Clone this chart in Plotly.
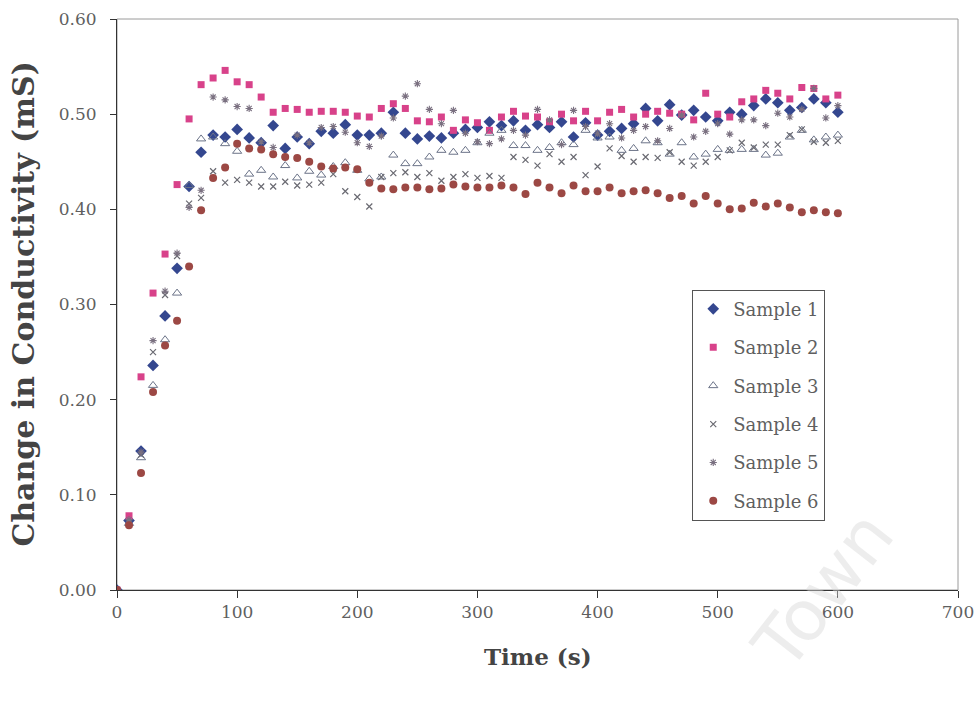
import plotly.graph_objects as go

# Sampling times (s)
time_s = list(range(0, 610, 10))

# Change in conductivity (mS) for each sample
sample_1 = [0.000, 0.073, 0.146, 0.236, 0.288, 0.338, 0.424, 0.460, 0.478, 0.476,
            0.484, 0.475, 0.470, 0.488, 0.464, 0.476, 0.469, 0.482, 0.480, 0.489,
            0.478, 0.478, 0.480, 0.502, 0.480, 0.474, 0.477, 0.475, 0.480, 0.484,
            0.486, 0.492, 0.488, 0.493, 0.483, 0.489, 0.486, 0.492, 0.476, 0.491,
            0.478, 0.482, 0.485, 0.490, 0.506, 0.493, 0.510, 0.499, 0.504, 0.497,
            0.493, 0.502, 0.500, 0.509, 0.516, 0.512, 0.504, 0.507, 0.516, 0.512,
            0.502]
sample_2 = [0.000, 0.078, 0.224, 0.312, 0.353, 0.426, 0.495, 0.531, 0.538, 0.546,
            0.534, 0.531, 0.518, 0.502, 0.506, 0.505, 0.502, 0.503, 0.503, 0.502,
            0.498, 0.497, 0.506, 0.511, 0.506, 0.493, 0.492, 0.497, 0.483, 0.494,
            0.491, 0.483, 0.497, 0.503, 0.498, 0.497, 0.492, 0.500, 0.493, 0.503,
            0.493, 0.502, 0.505, 0.497, 0.500, 0.503, 0.501, 0.500, 0.494, 0.522,
            0.500, 0.497, 0.513, 0.516, 0.525, 0.522, 0.516, 0.528, 0.527, 0.516,
            0.520]
sample_3 = [0.000, 0.070, 0.139, 0.215, 0.263, 0.312, 0.425, 0.474, 0.476, 0.469,
            0.461, 0.437, 0.441, 0.434, 0.446, 0.433, 0.440, 0.436, 0.445, 0.449,
            0.441, 0.432, 0.434, 0.457, 0.448, 0.448, 0.455, 0.462, 0.460, 0.462,
            0.470, 0.480, 0.483, 0.467, 0.467, 0.462, 0.465, 0.470, 0.468, 0.483,
            0.475, 0.476, 0.462, 0.464, 0.472, 0.470, 0.458, 0.470, 0.455, 0.458,
            0.463, 0.462, 0.463, 0.463, 0.457, 0.459, 0.476, 0.483, 0.473, 0.476,
            0.478]
sample_4 = [0.000, 0.071, 0.142, 0.250, 0.310, 0.351, 0.406, 0.412, 0.440, 0.428,
            0.431, 0.428, 0.424, 0.424, 0.429, 0.425, 0.426, 0.428, 0.437, 0.419,
            0.413, 0.403, 0.434, 0.438, 0.439, 0.434, 0.438, 0.430, 0.434, 0.437,
            0.433, 0.435, 0.433, 0.455, 0.452, 0.446, 0.458, 0.450, 0.455, 0.436,
            0.445, 0.464, 0.456, 0.450, 0.455, 0.454, 0.460, 0.450, 0.446, 0.450,
            0.455, 0.462, 0.470, 0.465, 0.468, 0.468, 0.478, 0.484, 0.471, 0.470,
            0.472]
sample_5 = [0.000, 0.074, 0.145, 0.262, 0.314, 0.354, 0.402, 0.420, 0.518, 0.515,
            0.508, 0.506, 0.471, 0.465, 0.455, 0.478, 0.470, 0.486, 0.487, 0.481,
            0.470, 0.466, 0.477, 0.496, 0.519, 0.532, 0.505, 0.490, 0.504, 0.480,
            0.471, 0.469, 0.474, 0.483, 0.478, 0.505, 0.494, 0.468, 0.504, 0.487,
            0.480, 0.490, 0.475, 0.483, 0.487, 0.472, 0.485, 0.499, 0.476, 0.482,
            0.490, 0.479, 0.494, 0.494, 0.488, 0.501, 0.497, 0.505, 0.527, 0.496,
            0.509]
sample_6 = [0.000, 0.068, 0.123, 0.208, 0.257, 0.283, 0.340, 0.399, 0.433, 0.444,
            0.469, 0.464, 0.463, 0.458, 0.455, 0.454, 0.450, 0.445, 0.443, 0.444,
            0.442, 0.428, 0.422, 0.421, 0.423, 0.423, 0.421, 0.422, 0.426, 0.424,
            0.423, 0.423, 0.425, 0.423, 0.416, 0.428, 0.423, 0.417, 0.425, 0.419,
            0.419, 0.423, 0.417, 0.419, 0.420, 0.417, 0.412, 0.414, 0.406, 0.414,
            0.406, 0.400, 0.401, 0.407, 0.403, 0.406, 0.402, 0.397, 0.399, 0.397,
            0.396]

series_names = ["Sample 1", "Sample 2", "Sample 3", "Sample 4", "Sample 5", "Sample 6"]
series_values = [sample_1, sample_2, sample_3, sample_4, sample_5, sample_6]

y_ticks = [0.0, 0.1, 0.2, 0.3, 0.4, 0.5, 0.6]
y_tick_labels = ["0.00", "0.10", "0.20", "0.30", "0.40", "0.50", "0.60"]
x_ticks = [0, 100, 200, 300, 400, 500, 600, 700]

marker_styles = [
    dict(symbol="diamond", size=9, color="#34478f"),
    dict(symbol="square", size=7, color="#d8428a"),
    dict(symbol="triangle-up-open", size=8, color="#6b7388", line=dict(width=1)),
    dict(symbol="x-thin-open", size=6, color="#6a6a72", line=dict(width=1.2)),
    dict(symbol="asterisk-open", size=6, color="#7a7080", line=dict(width=1.1)),
    dict(symbol="circle", size=8, color="#9c4844"),
]

SERIF = "DejaVu Serif"
GREY_TEXT = "#5f5f5f"

fig = go.Figure()
for name, vals, mk in zip(series_names, series_values, marker_styles):
    fig.add_trace(go.Scatter(
        x=time_s, y=vals, mode="markers", name=name, marker=mk,
        legendgroup=name,
    ))

fig.update_layout(
    width=979, height=701, autosize=False,
    margin=dict(l=117, r=21, t=19, b=111),
    paper_bgcolor="white", plot_bgcolor="white",
    font=dict(family=SERIF, color=GREY_TEXT),
    showlegend=True,
    legend=dict(
        x=0.684, y=0.526, xanchor="left", yanchor="top",
        bordercolor="#555555", borderwidth=1, bgcolor="white",
        font=dict(family=SERIF, size=18, color=GREY_TEXT),
        tracegroupgap=12, itemsizing="trace", itemwidth=30,
    ),
)

fig.update_xaxes(
    range=[0, 700], tickvals=x_ticks, ticks="outside", ticklen=7,
    tickcolor="#333333", showline=True, linecolor="#333333", linewidth=1,
    showgrid=False, zeroline=False, automargin=False,
    tickfont=dict(family=SERIF, size=17, color=GREY_TEXT),
)
fig.update_yaxes(
    range=[0, 0.6], tickvals=y_ticks, ticktext=y_tick_labels,
    ticks="outside", ticklen=6, tickcolor="#333333",
    showline=True, linecolor="#333333", linewidth=1,
    showgrid=False, zeroline=False, ticklabelstandoff=10, automargin=False,
    tickfont=dict(family=SERIF, size=17, color=GREY_TEXT),
)

# Light outline of the plot area (top and right edges)
fig.add_shape(type="rect", xref="paper", yref="paper", x0=0, y0=0, x1=1, y1=1,
              line=dict(color="#9a9a9a", width=1), layer="below")

# Axis titles
fig.add_annotation(text="<b>Time (s)</b>", xref="paper", yref="paper",
                   x=0.5, y=-0.117, showarrow=False, yanchor="middle",
                   font=dict(family=SERIF, size=23, color="#444444"))
fig.add_annotation(text="<b>Change in Conductivity (mS)</b>", xref="paper", yref="paper",
                   x=-0.111, y=0.501, showarrow=False, textangle=-90,
                   xanchor="center", yanchor="middle",
                   font=dict(family=SERIF, size=30, color="#444444"))

# Faint diagonal watermark
fig.add_annotation(text="Town", xref="paper", yref="paper",
                   x=0.84, y=0.0, showarrow=False, textangle=-52,
                   xanchor="center", yanchor="middle",
                   font=dict(family="DejaVu Sans", size=70, color="rgba(215,215,215,0.45)"))

fig.write_html("out.html")
